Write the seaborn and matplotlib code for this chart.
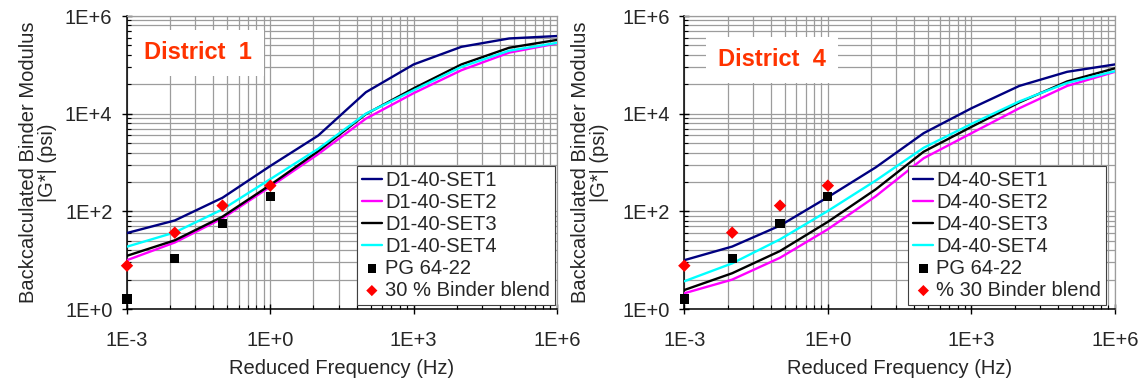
import matplotlib
matplotlib.use("Agg")
import matplotlib.pyplot as plt
from matplotlib.ticker import FixedLocator, FixedFormatter, NullFormatter
import pandas as pd
import seaborn as sns

# Reduced frequency (Hz) at which the master curves are evaluated
freq = [1e-3, 1e-2, 1e-1, 1e0, 1e1, 1e2, 1e3, 1e4, 1e5, 1e6]

# Backcalculated |G*| (psi), District 1
d1_set1 = [36, 65, 190, 850, 3550, 27500, 102000, 234000, 347000, 389000]
d1_set2 = [10, 23, 72, 320, 1480, 7900, 26300, 77600, 178000, 275000]
d1_set3 = [12.3, 25.5, 78, 347, 1700, 9800, 33000, 102000, 224000, 324000]
d1_set4 = [18.9, 37, 110, 457, 1900, 10000, 30200, 91000, 195000, 282000]

# Backcalculated |G*| (psi), District 4
d4_set1 = [10, 19, 51, 195, 795, 3980, 12900, 37000, 72000, 102000]
d4_set2 = [2.1, 4.0, 11.2, 43, 204, 1220, 3980, 12900, 37000, 72000]
d4_set3 = [2.45, 5.4, 15.4, 61, 282, 1660, 5370, 17000, 45700, 85000]
d4_set4 = [3.7, 8.6, 26.7, 102, 427, 2000, 6170, 17800, 42700, 74000]

# Measured binder data
test_freq = [1e-3, 1e-2, 1e-1, 1e0]
pg_64_22 = [1.6, 11, 57, 205]
binder_blend_30 = [7.7, 36.6, 131, 336]

x_ticks = [1e-3, 1e0, 1e3, 1e6]
x_tick_labels = ["1E-3", "1E+0", "1E+3", "1E+6"]
y_ticks = [1e0, 1e2, 1e4, 1e6]
y_tick_labels = ["1E+0", "1E+2", "1E+4", "1E+6"]

set_colors = ["#000080", "#ff00ff", "#000000", "#00ffff"]

panels = [
    dict(title="District  1", prefix="D1", curves=[d1_set1, d1_set2, d1_set3, d1_set4],
         blend_label="30 % Binder blend", rect=[0.1111, 0.1932, 0.3762, 0.765],
         title_xy=(0.165, 0.874), ylab_x=-0.208, leg_x=0.995),
    dict(title="District  4", prefix="D4", curves=[d4_set1, d4_set2, d4_set3, d4_set4],
         blend_label="% 30 Binder blend", rect=[0.5987, 0.1932, 0.3768, 0.765],
         title_xy=(0.204, 0.85), ylab_x=-0.219, leg_x=0.98),
]

sns.set_theme(style="white")
plt.rcParams["font.family"] = ["Liberation Sans", "DejaVu Sans"]

# minor gridlines spaced like a log axis whose major step is 10^3 (x) / 10^2 (y)
x_minor = [b * k ** 3 for b in (1e-3, 1e0, 1e3) for k in range(2, 10)]
y_minor = [b * k ** 2 for b in (1e0, 1e2, 1e4) for k in range(2, 10)]

fs = 14.5
grid_col = "#9c9c9c"

fig = plt.figure(figsize=(11.43, 3.83), dpi=100)

for p in panels:
    ax = fig.add_axes(p["rect"])
    ax.set_xscale("log")
    ax.set_yscale("log")

    for i, (vals, col) in enumerate(zip(p["curves"], set_colors)):
        df = pd.DataFrame({"freq": freq, "G": vals})
        sns.lineplot(data=df, x="freq", y="G", color=col, lw=1.7,
                     label=f"{p['prefix']}-40-SET{i + 1}", ax=ax, zorder=3)

    sns.scatterplot(x=test_freq, y=pg_64_22, marker="s", s=44, color="black",
                    edgecolor="none", label="PG 64-22", ax=ax, zorder=4, clip_on=False)
    sns.scatterplot(x=test_freq, y=binder_blend_30, marker="D", s=40, color="#ff0000",
                    edgecolor="none", label=p["blend_label"], ax=ax, zorder=4, clip_on=False)

    ax.set_xlim(1e-3, 1e6)
    ax.set_ylim(1e0, 1e6)

    ax.xaxis.set_major_locator(FixedLocator(x_ticks))
    ax.xaxis.set_major_formatter(FixedFormatter(x_tick_labels))
    ax.xaxis.set_minor_locator(FixedLocator(x_minor))
    ax.xaxis.set_minor_formatter(NullFormatter())
    ax.yaxis.set_major_locator(FixedLocator(y_ticks))
    ax.yaxis.set_major_formatter(FixedFormatter(y_tick_labels))
    ax.yaxis.set_minor_locator(FixedLocator(y_minor))
    ax.yaxis.set_minor_formatter(NullFormatter())

    ax.set_axisbelow(True)
    ax.grid(which="both", color=grid_col, lw=0.9)

    ax.tick_params(which="major", direction="inout", length=7, width=1, color="black",
                   labelsize=fs, bottom=True, left=True, top=False, right=False)
    ax.tick_params(axis="x", which="major", pad=12)
    ax.tick_params(axis="y", which="major", pad=7)
    ax.tick_params(which="minor", direction="in", length=3, width=0.8, color="black",
                   bottom=True, left=True, top=False, right=False)

    for side in ("left", "bottom"):
        ax.spines[side].set_color("black")
        ax.spines[side].set_linewidth(1.1)
    for side in ("top", "right"):
        ax.spines[side].set_color(grid_col)
        ax.spines[side].set_linewidth(0.9)

    ax.set_xlabel("Reduced Frequency (Hz)", fontsize=fs)
    ax.xaxis.set_label_coords(0.5, -0.172)
    ax.set_ylabel("Backcalculated Binder Modulus\n|G*| (psi)", fontsize=fs,
                  va="center", linespacing=1.0)
    ax.yaxis.set_label_coords(p["ylab_x"], 0.5)

    ax.text(p["title_xy"][0], p["title_xy"][1], p["title"], transform=ax.transAxes,
            ha="center", va="center", fontsize=17, fontweight="bold", color="#ff3300",
            bbox=dict(boxstyle="square,pad=0.5", fc="white", ec="none"), zorder=5)

    handles, labels = ax.get_legend_handles_labels()
    leg = ax.legend(handles, labels, loc="lower right", bbox_to_anchor=(p["leg_x"], 0.014),
                    borderaxespad=0, frameon=True, fancybox=False, edgecolor="#404040",
                    framealpha=1, fontsize=fs, handlelength=1.0, handletextpad=0.15,
                    labelspacing=0.15, borderpad=0.25, markerscale=0.9)
    leg.get_frame().set_linewidth(0.8)

fig.savefig("out.png", dpi=100)
